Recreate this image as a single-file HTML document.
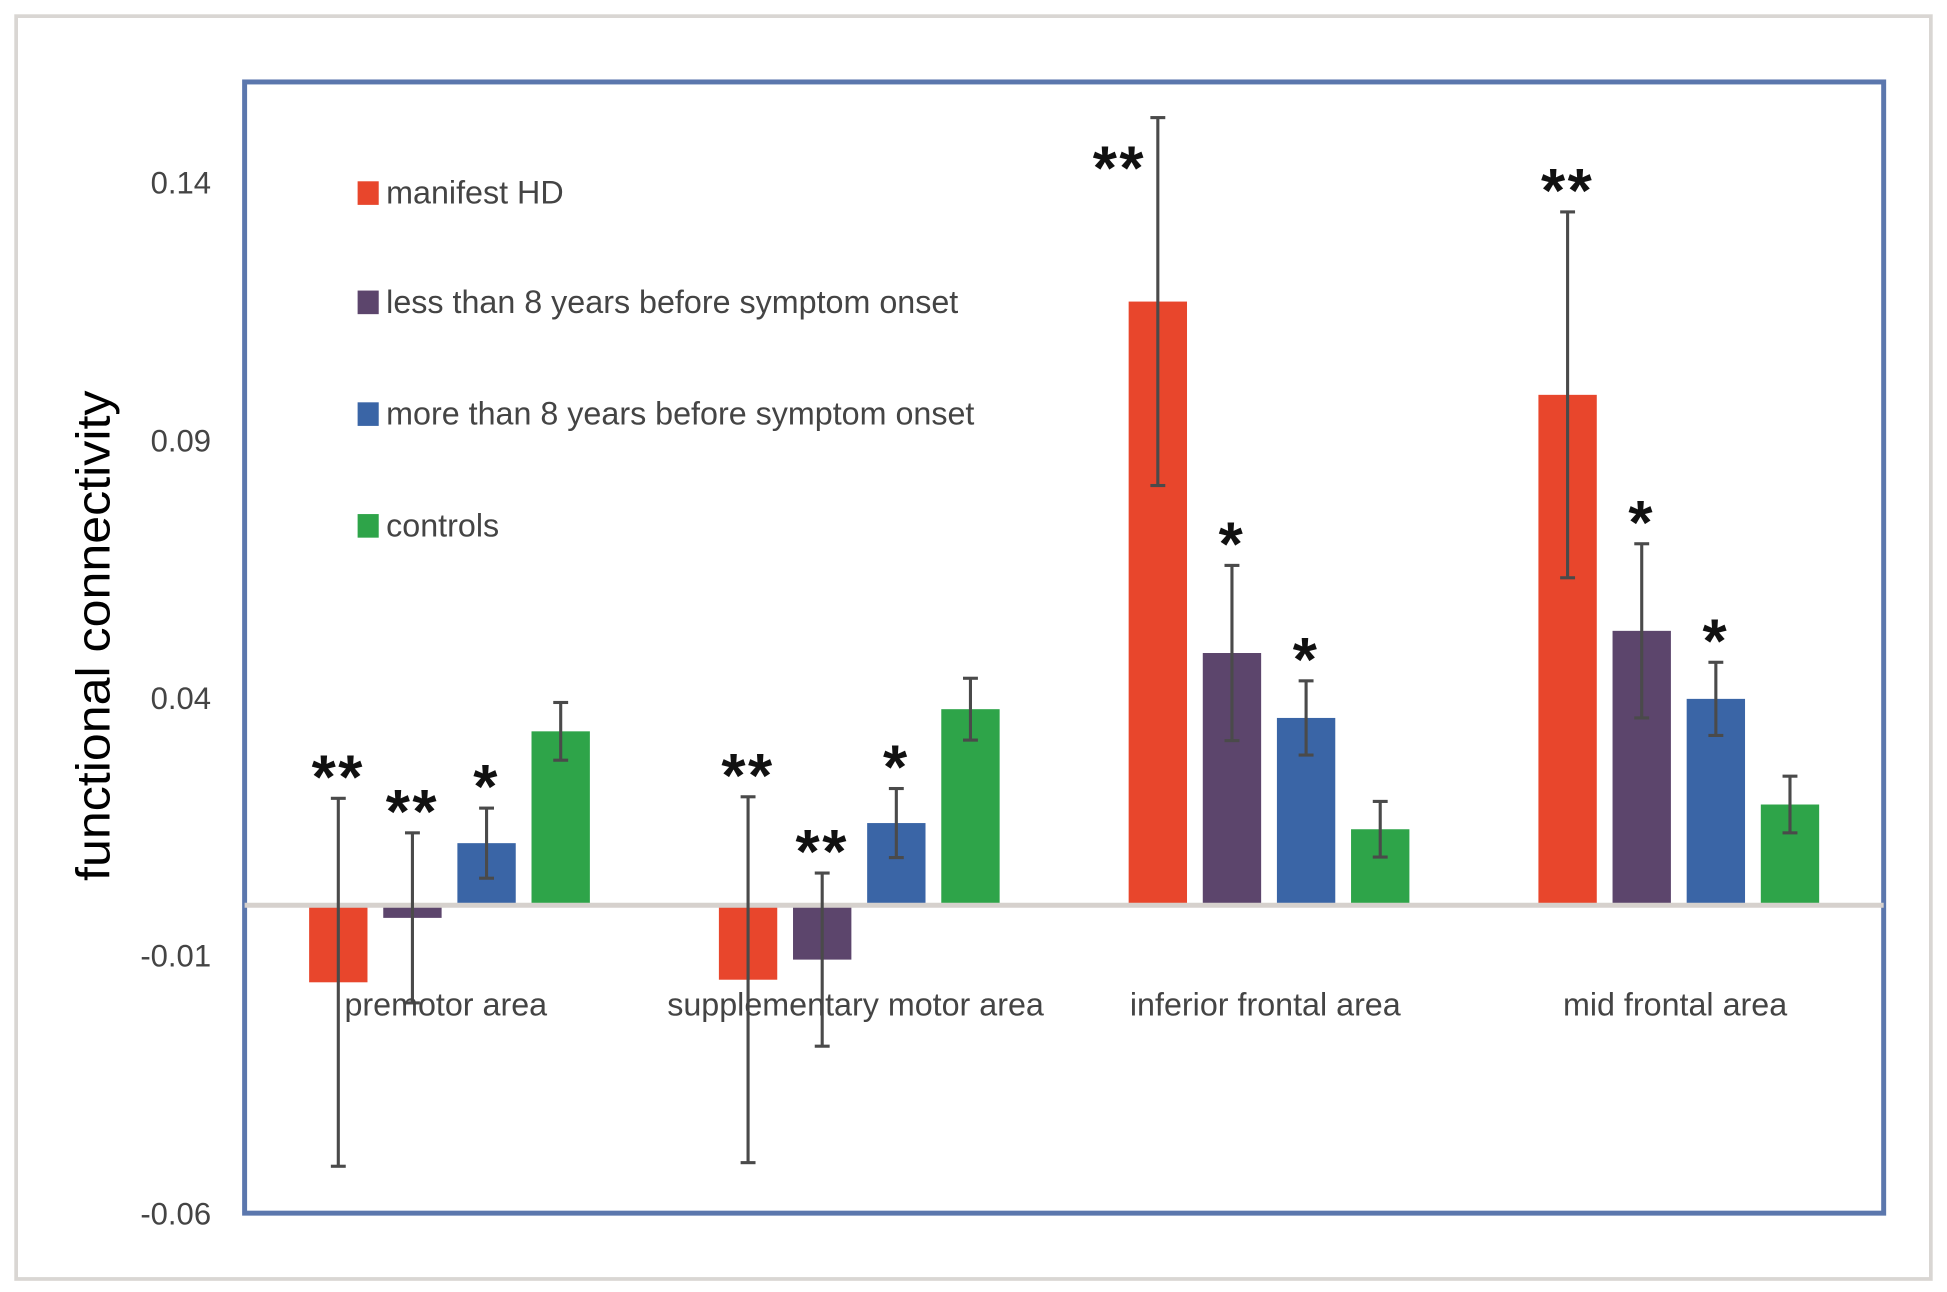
<!DOCTYPE html>
<html><head><meta charset="utf-8"><style>
html,body{margin:0;padding:0;background:#fff;}
svg{display:block;}
text{font-family:"Liberation Sans",sans-serif;}
</style></head><body>
<svg id="chart" width="1947" height="1292" viewBox="0 0 1568 1040.5" xmlns="http://www.w3.org/2000/svg">
<rect x="13" y="13" width="1542" height="1017" fill="#fff" stroke="#d9d6d3" stroke-width="3"/>
<rect x="197" y="66" width="1320" height="911" fill="none" stroke="#5b77ad" stroke-width="4"/>
<g id="yticks"></g>
<text transform="translate(88,512) rotate(-90)" text-anchor="middle" font-size="38" fill="#000" textLength="395" lengthAdjust="spacingAndGlyphs">functional connectivity</text>
<g id="bars"></g>
<line x1="197" x2="1517" y1="729" y2="729" stroke="#d6d1cd" stroke-width="4"/>
<g id="errs"></g>
<g id="cats"></g>
<g id="legend"></g>
</svg>
<script>
const categories=["premotor area","supplementary motor area","inferior frontal area","mid frontal area"];
const seriesNames=["manifest HD","less than 8 years before  symptom onset","more than 8 years before  symptom onset","controls"];
const colors=["#e8462c","#5c456c","#3a65a6","#2ea449"];
const manifestHD=[-0.0152,-0.0147,0.1169,0.0988];
const lessThan8=[-0.0027,-0.0108,0.0487,0.053];
const moreThan8=[0.0118,0.0157,0.0361,0.0398];
const controls=[0.0335,0.0378,0.0145,0.0193];
const errManifest=[0.0357,0.0355,0.0357,0.0355];
const errLess=[0.0165,0.0168,0.017,0.0169];
const errMore=[0.0068,0.0067,0.0072,0.0071];
const errControls=[0.0056,0.006,0.0054,0.0055];
const sigManifest=["**","**","**","**"];
const sigLess=["**","**","*","*"];
const sigMore=["*","*","*","*"];
const sigControls=["","","",""];
const yTicks=[0.14,0.09,0.04,-0.01,-0.06];
const yTickLabels=["0.14","0.09","0.04","-0.01","-0.06"];

const series=[manifestHD,lessThan8,moreThan8,controls];
const errs=[errManifest,errLess,errMore,errControls];
const sigs=[sigManifest,sigLess,sigMore,sigControls];
const NS="http://www.w3.org/2000/svg";
const plotL=197,plotR=1517,plotT=66,plotB=977,yMin=-0.06,yMax=0.16;
function y(v){return 977-(v-yMin)/0.05*207.5;}
const groupW=(plotR-plotL)/categories.length;
function x(ci,si){return plotL+groupW*(ci+0.5)+(si-1.5)*59.7;}
function mk(tag,attrs,parent){const e=document.createElementNS(NS,tag);for(const k in attrs)e.setAttribute(k,attrs[k]);parent.appendChild(e);return e;}
const gT=document.getElementById('yticks'),gB=document.getElementById('bars'),gE=document.getElementById('errs'),gC=document.getElementById('cats'),gL=document.getElementById('legend');
yTicks.forEach((t,i)=>{const e=mk('text',{x:170,y:y(t)+9,'text-anchor':'end','font-size':25,fill:'#444'},gT);e.textContent=yTickLabels[i];

});
const y0=y(0);
categories.forEach((c,ci)=>{
 series.forEach((s,si)=>{
  const v=s[ci],cx=x(ci,si),bw=47;
  const top=v>=0?y(v):y0+2,h=v>=0?y0-y(v):y(v)-y0-2;
  const r=mk('rect',{x:cx-bw/2,y:top,width:bw,height:Math.max(h,1),fill:colors[si]},gB);
  
  
  const eh=y(v+errs[si][ci]),el=y(v-errs[si][ci]);
  const g=mk('g',{stroke:'#4a4a4a','stroke-width':2.5},gE);
  
  
  mk('line',{x1:cx,x2:cx,y1:eh,y2:el},g);
  mk('line',{x1:cx-6,x2:cx+6,y1:eh,y2:eh},g);
  mk('line',{x1:cx-6,x2:cx+6,y1:el,y2:el},g);
  if(sigs[si][ci]){
   let sx=cx, sy=eh-12;
   if(eh-45<plotT){sx=cx-31;sy=eh+46;}
   const t=mk('text',{x:sx,y:sy+12,'text-anchor':'middle','font-size':50,'font-weight':'bold',fill:'#111','letter-spacing':'2'},gE);
   t.textContent=sigs[si][ci];
   
   }
 });
 const t=mk('text',{x:plotL+groupW*(ci+0.5)-3,y:818,'text-anchor':'middle','font-size':26,fill:'#444'},gC);
 t.textContent=c;
 
 
});
const legY=[155,243,333,423];
seriesNames.forEach((n,i)=>{
 const g=mk('g',{},gL);
 
 
 mk('rect',{x:288,y:legY[i]-9,width:17,height:19,fill:colors[i]},g);
 const t=mk('text',{x:311,y:legY[i]+9,'font-size':26,fill:'#444'},g);t.textContent=n;
});
</script>
</body></html>
